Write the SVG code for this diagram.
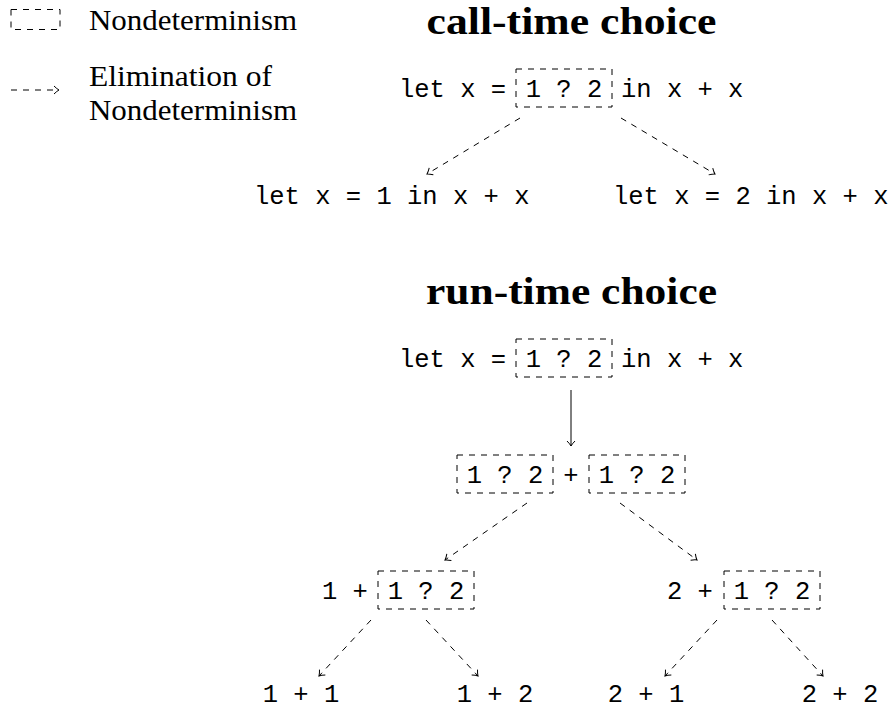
<svg xmlns="http://www.w3.org/2000/svg" width="889" height="709" viewBox="0 0 889 709">
<defs>
<style>
.tt{font-family:"Liberation Mono","DejaVu Sans Mono",monospace;font-size:25.5px;fill:#000}
.rm{font-family:"Liberation Serif","DejaVu Serif",serif;font-size:29px;fill:#000}
.ttl{font-family:"Liberation Serif","DejaVu Serif",serif;font-size:37px;font-weight:bold;fill:#000}
.box{fill:none;stroke:#000;stroke-width:1;stroke-dasharray:6 6}
.dash{fill:none;stroke:#000;stroke-width:1;stroke-dasharray:6 6}
.solid{fill:none;stroke:#000;stroke-width:1}
</style>
<marker id="arr" markerUnits="userSpaceOnUse" markerWidth="14" markerHeight="14" viewBox="-8 -7 10 14" refX="0" refY="0" orient="auto">
<path d="M-5,-4 Q-2,-1 0,0 Q-2,1 -5,4" fill="none" stroke="#000" stroke-width="1" stroke-dasharray="none"/>
</marker>
</defs>

<g id="legend">
<rect class="box" x="11" y="9.5" width="49" height="20"/>
<text class="rm" x="89" y="30" textLength="208" lengthAdjust="spacingAndGlyphs">Nondeterminism</text>
<line class="dash" x1="11" y1="90" x2="59" y2="90" marker-end="url(#arr)"/>
<text class="rm" x="89" y="86" textLength="183" lengthAdjust="spacingAndGlyphs">Elimination of</text>
<text class="rm" x="89" y="120" textLength="208" lengthAdjust="spacingAndGlyphs">Nondeterminism</text>
</g>

<g id="title-call">
<text class="ttl" x="571.5" y="34" text-anchor="middle" textLength="290" lengthAdjust="spacingAndGlyphs">call-time choice</text>
</g>
<g id="title-run">
<text class="ttl" x="571.5" y="304" text-anchor="middle" textLength="291" lengthAdjust="spacingAndGlyphs">run-time choice</text>
</g>

<g id="call-root">
<text class="tt" x="399" y="97" xml:space="preserve">let x =</text>
<rect class="box" x="516" y="69" width="96" height="38"/>
<text class="tt" x="564" y="97" text-anchor="middle" xml:space="preserve">1 ? 2</text>
<text class="tt" x="621" y="97" xml:space="preserve">in x + x</text>
</g>
<g id="call-left">
<text class="tt" x="254" y="204" xml:space="preserve">let x = 1 in x + x</text>
</g>
<g id="call-right">
<text class="tt" x="613" y="204" xml:space="preserve">let x = 2 in x + x</text>
</g>

<g id="run-root">
<text class="tt" x="399" y="367" xml:space="preserve">let x =</text>
<rect class="box" x="516" y="339" width="96" height="38"/>
<text class="tt" x="564" y="367" text-anchor="middle" xml:space="preserve">1 ? 2</text>
<text class="tt" x="621" y="367" xml:space="preserve">in x + x</text>
</g>

<g id="run-sum">
<rect class="box" x="457" y="455" width="96" height="38"/>
<text class="tt" x="505" y="483" text-anchor="middle" xml:space="preserve">1 ? 2</text>
<text class="tt" x="571" y="483" text-anchor="middle">+</text>
<rect class="box" x="589" y="455" width="96" height="38"/>
<text class="tt" x="637" y="483" text-anchor="middle" xml:space="preserve">1 ? 2</text>
</g>

<g id="run-one">
<text class="tt" x="322" y="599" xml:space="preserve">1 +</text>
<rect class="box" x="378" y="571" width="96" height="38"/>
<text class="tt" x="426" y="599" text-anchor="middle" xml:space="preserve">1 ? 2</text>
</g>
<g id="run-two">
<text class="tt" x="667" y="599" xml:space="preserve">2 +</text>
<rect class="box" x="724" y="571" width="96" height="38"/>
<text class="tt" x="772" y="599" text-anchor="middle" xml:space="preserve">1 ? 2</text>
</g>

<g id="leaf-11"><text class="tt" x="301" y="702" text-anchor="middle" xml:space="preserve">1 + 1</text></g>
<g id="leaf-12"><text class="tt" x="495" y="702" text-anchor="middle" xml:space="preserve">1 + 2</text></g>
<g id="leaf-21"><text class="tt" x="646" y="702" text-anchor="middle" xml:space="preserve">2 + 1</text></g>
<g id="leaf-22"><text class="tt" x="840" y="702" text-anchor="middle" xml:space="preserve">2 + 2</text></g>

<g id="connectors">
<line class="dash" x1="520" y1="118" x2="427" y2="174" marker-end="url(#arr)"/>
<line class="dash" x1="621" y1="118" x2="715" y2="174" marker-end="url(#arr)"/>
<line class="solid" x1="571" y1="390" x2="571" y2="446" marker-end="url(#arr)"/>
<line class="dash" x1="527" y1="503" x2="445" y2="560" marker-end="url(#arr)"/>
<line class="dash" x1="620" y1="503" x2="697" y2="560" marker-end="url(#arr)"/>
<line class="dash" x1="371" y1="620" x2="319" y2="676" marker-end="url(#arr)"/>
<line class="dash" x1="426" y1="620" x2="478" y2="676" marker-end="url(#arr)"/>
<line class="dash" x1="717" y1="620" x2="665" y2="676" marker-end="url(#arr)"/>
<line class="dash" x1="772" y1="620" x2="823" y2="676" marker-end="url(#arr)"/>
</g>
</svg>
